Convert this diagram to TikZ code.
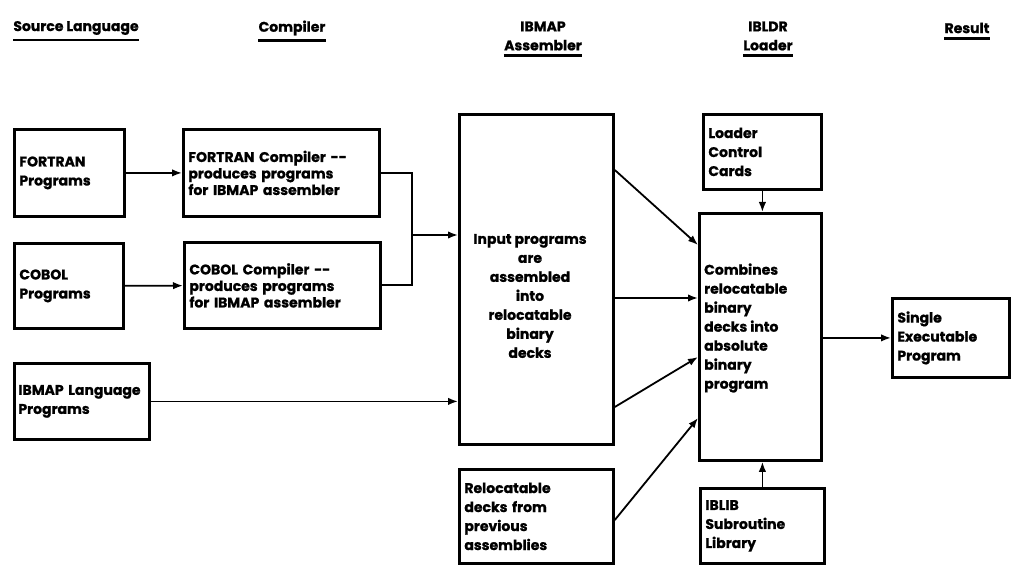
\documentclass[tikz,border=0pt]{standalone}
\usepackage{fontspec}
\setmainfont{Poppins}[BoldFeatures={FakeBold=1}]
\usetikzlibrary{arrows.meta}

\tikzset{
  box/.style={draw, line width=2.8pt, anchor=north west, inner xsep=5pt, inner ysep=0pt,
    align=left, font=\bfseries\fontsize{14}{19}\selectfont},
  head/.style={inner sep=0pt, align=center, font=\bfseries\fontsize{14}{19}\selectfont},
  flow/.style={line width=1.8pt, -{Latex[length=10pt,width=7.5pt]}},
  wire/.style={line width=1.8pt},
  rule/.style={line width=2.4pt}
}

\begin{document}
\begin{tikzpicture}[x=1pt, y=-1pt]
  \useasboundingbox (0,0) rectangle (1013,572);

  % column headings
  \node[head] (hsrc) at (76,28) {Source Language};
  \node[head] (hcomp) at (292,28) {Compiler};
  \node[head] (hasm) at (543,36) {IBMAP\\Assembler};
  \node[head] (hldr) at (768,36) {IBLDR\\Loader};
  \node[head] (hres) at (967,28) {Result};
  \foreach \h in {hsrc,hcomp,hasm,hldr,hres}
    \draw[rule] ([yshift=-5pt]\h.south west) -- ([yshift=-5pt]\h.south east);

  % inputs and compilers
  \node[box, text width=100pt, minimum height=87pt] (fprog) at (13,128) {FORTRAN\\Programs};
  \node[box, text width=186pt, minimum height=87pt] (fcomp) at (182,128)
    {FORTRAN Compiler -{}-\\[-2.5pt]produces programs\\[-2.5pt]for IBMAP assembler};
  \node[box, text width=99pt, minimum height=85pt] (cprog) at (13,242) {COBOL\\Programs};
  \node[box, text width=186pt, minimum height=86pt] (ccomp) at (183,241)
    {COBOL Compiler -{}-\\[-2.5pt]produces programs\\[-2.5pt]for IBMAP assembler};
  \node[box, inner xsep=4pt, text width=127pt, minimum height=76pt] (ibmap) at (13,362)
    {IBMAP Language\\Programs};

  % assembler
  \node[box, minimum width=154pt, minimum height=330pt] (asm) at (458,113) {};
  \node[head] (asmtext) at (530,296)
    {Input programs\\are\\assembled\\into\\relocatable\\binary\\decks};
  \node[box, text width=144pt, minimum height=94pt] (reloc) at (458,468)
    {Relocatable\\decks from\\previous\\assemblies};

  % loader
  \node[box, text width=108pt, minimum height=75pt] (lcc) at (702,113) {Loader\\Control\\Cards};
  \node[box, minimum width=122pt, minimum height=247pt] (load) at (698,212) {};
  \node[head, anchor=west, align=left] (loadtext) at (704,328)
    {Combines\\relocatable\\binary\\decks into\\absolute\\binary\\program};
  \node[box, text width=114pt, minimum height=75pt] (iblib) at (699,487) {IBLIB\\Subroutine\\Library};

  % result
  \node[box, text width=107pt, minimum height=79pt] (exe) at (891,297) {Single\\Executable\\Program};

  % connectors
  \coordinate (join) at (412,235);
  \draw[flow] (fprog) -- (fcomp);
  \draw[flow] (cprog) -- (ccomp);
  \draw[wire] (fcomp.east) -| (join);
  \draw[wire] (ccomp.east) -| (join);
  \draw[flow] (join) -- (join -| asm.west);
  \draw[flow] (ibmap.east) -- (ibmap.east -| asm.west);
  \draw[flow] ([yshift=-57pt]asm.north east) -- ([yshift=-33pt]load.north west);
  \draw[flow] ([yshift=-185pt]asm.north east) -- ([yshift=-86pt]load.north west);
  \draw[flow] ([yshift=-294pt]asm.north east) -- ([yshift=-145pt]load.north west);
  \draw[flow] ([yshift=-52pt]reloc.north east) -- ([yshift=-206pt]load.north west);
  \draw[flow] (lcc.south) -- (lcc.south |- load.north);
  \draw[flow] (iblib.north) -- (iblib.north |- load.south);
  \draw[flow] (load.east |- exe.west) -- (exe.west);
\end{tikzpicture}
\end{document}
